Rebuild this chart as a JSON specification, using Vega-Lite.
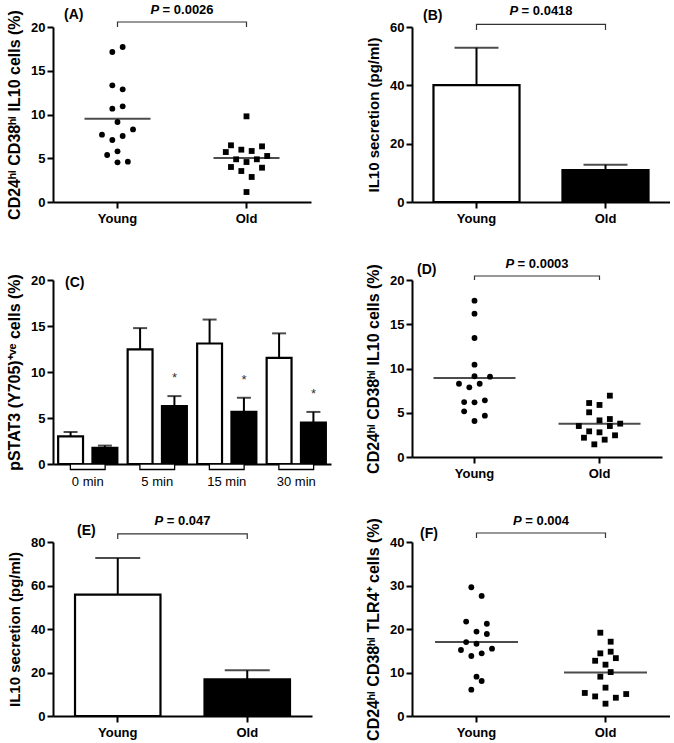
{
"$schema": "https://vega.github.io/schema/vega-lite/v6.json",
"padding": {"left": 6, "top": 4, "right": 0, "bottom": 0},
"background": "white",
"columns": 2,
"bounds": "flush",
"spacing": {"row": 78, "column": 81},
"config": {
  "font": "Liberation Sans",
  "view": {"stroke": null},
  "axis": {"domainColor": "black", "domainWidth": 2, "tickColor": "black", "tickWidth": 2, "tickSize": 6, "labelColor": "black", "labelFontSize": 13, "labelFontWeight": "bold", "labelPadding": 2, "titleFontSize": 15, "titleFontWeight": "bold", "titleColor": "black", "titlePadding": 8, "grid": false},
  "axisX": {"labelAngle": 0, "labelPadding": 4}
},
"concat": [
{
 "width": 258, "height": 175,
 "layer": [
  {"data": {"values": [
    {"age":"Young","v":17.14,"slot":-1},{"age":"Young","v":17.71,"slot":1},{"age":"Young","v":13.33,"slot":-1},{"age":"Young","v":12.88,"slot":1},{"age":"Young","v":10.67,"slot":-1},{"age":"Young","v":10.93,"slot":1},{"age":"Young","v":9.14,"slot":0},{"age":"Young","v":7.7,"slot":-3},{"age":"Young","v":8.3,"slot":3},{"age":"Young","v":7.09,"slot":-1},{"age":"Young","v":7.54,"slot":1},{"age":"Young","v":5.37,"slot":-2},{"age":"Young","v":5.79,"slot":0},{"age":"Young","v":4.53,"slot":0},{"age":"Young","v":4.61,"slot":2},
    {"age":"Old","v":9.79,"slot":0},{"age":"Old","v":6.48,"slot":-3},{"age":"Old","v":5.71,"slot":-4},{"age":"Old","v":5.98,"slot":-1},{"age":"Old","v":5.83,"slot":1},{"age":"Old","v":6.36,"slot":3},{"age":"Old","v":4.88,"slot":-2},{"age":"Old","v":4.57,"slot":0},{"age":"Old","v":4.88,"slot":2},{"age":"Old","v":5.26,"slot":4},{"age":"Old","v":4.0,"slot":-3},{"age":"Old","v":3.54,"slot":-1},{"age":"Old","v":3.92,"slot":3},{"age":"Old","v":2.86,"slot":1},{"age":"Old","v":1.14,"slot":0}
   ]},
   "mark": {"type": "point", "filled": true, "opacity": 1, "size": 34, "color": "black"},
   "encoding": {
     "x": {"field": "age", "type": "nominal", "scale": {"type": "band", "domain": ["Young", "Old"], "paddingInner": 0, "paddingOuter": 0}, "axis": {"title": null}},
     "xOffset": {"field": "slot", "type": "quantitative", "scale": {"domain": [-4, 4], "range": [43.8, 85.2]}},
     "y": {"field": "v", "type": "quantitative", "scale": {"domain": [0, 20], "nice": false}, "axis": {"title": "CD24ʰⁱ CD38ʰⁱ IL10 cells (%)", "titleFontSize": 16, "values": [0, 5, 10, 15, 20]}},
     "shape": {"field": "age", "type": "nominal", "scale": {"domain": ["Young", "Old"], "range": ["circle", "square"]}, "legend": null}}},
  {"data": {"values": [{"age": "Young", "v": 9.52}, {"age": "Old", "v": 5.03}]},
   "mark": {"type": "tick", "orient": "horizontal", "size": 66, "thickness": 2, "color": "black"},
   "encoding": {"x": {"field": "age", "type": "nominal", "bandPosition": 0.5}, "y": {"field": "v", "type": "quantitative"}}},
  {"data": {"values": [{"age":"Young","v":20,"o":1},{"age":"Young","v":20.57,"o":2},{"age":"Old","v":20.57,"o":3},{"age":"Old","v":20,"o":4}]},
   "mark": {"type": "line", "color": "#333333", "strokeWidth": 1.2, "clip": false},
   "encoding": {"x": {"field":"age","type":"nominal","bandPosition":0.5}, "y": {"field":"v","type":"quantitative"}, "order": {"field":"o","type":"quantitative"}}},
  {"data": {"values": [{"age":"Young","v":20}]},
   "mark": {"type":"text","text":"P","fontStyle":"italic","fontWeight":"bold","fontSize":13,"align":"left","baseline":"alphabetic","dx":-31.6,"dy":-13,"color":"black"},
   "encoding": {"x": {"field":"age","type":"nominal","bandPosition":1}, "y": {"field":"v","type":"quantitative"}}},
  {"data": {"values": [{"age":"Young","v":20}]},
   "mark": {"type":"text","text":"= 0.0026","fontWeight":"bold","fontSize":13,"align":"left","baseline":"alphabetic","dx":-19.4,"dy":-13,"color":"black"},
   "encoding": {"x": {"field":"age","type":"nominal","bandPosition":1}, "y": {"field":"v","type":"quantitative"}}},
  {"data": {"values": [{"age":"Young","v":20}]},
   "mark": {"type":"text","text":"(A)","fontWeight":"bold","fontSize":14,"align":"left","baseline":"alphabetic","dx":11,"dy":-8,"color":"black"},
   "encoding": {"x": {"field":"age","type":"nominal","bandPosition":0}, "y": {"field":"v","type":"quantitative"}}}
 ]
},
{
 "width": 258, "height": 175,
 "layer": [
  {"data": {"values": [{"age":"Young","v":40.1,"hi":52.9},{"age":"Old","v":10.9,"hi":12.8}]},
   "layer": [
    {"mark": {"type": "bar", "width": {"band": 0.667}, "stroke": "black", "strokeWidth": 2.2},
     "encoding": {
       "x": {"field": "age", "type": "nominal", "scale": {"type": "band", "domain": ["Young", "Old"], "paddingInner": 0, "paddingOuter": 0}, "axis": {"title": null}},
       "y": {"field": "v", "type": "quantitative", "scale": {"domain": [0, 60], "nice": false}, "axis": {"title": "IL10 secretion (pg/ml)", "values": [0, 20, 40, 60]}},
       "fill": {"field": "age", "type": "nominal", "scale": {"domain": ["Young", "Old"], "range": ["white", "black"]}, "legend": null}}},
    {"mark": {"type": "rule", "strokeWidth": 2, "color": "black"},
     "encoding": {"x": {"field": "age", "type": "nominal", "bandPosition": 0.5}, "y": {"field": "v", "type": "quantitative"}, "y2": {"field": "hi"}}},
    {"mark": {"type": "tick", "orient": "horizontal", "size": 44, "thickness": 2, "color": "black"},
     "encoding": {"x": {"field": "age", "type": "nominal", "bandPosition": 0.5}, "y": {"field": "hi", "type": "quantitative"}}}
   ]},
  {"data": {"values": [{"age":"Young","v":59,"o":1},{"age":"Young","v":60.9,"o":2},{"age":"Old","v":60.9,"o":3},{"age":"Old","v":59,"o":4}]},
   "mark": {"type": "line", "color": "#333333", "strokeWidth": 1.2, "clip": false},
   "encoding": {"x": {"field":"age","type":"nominal","bandPosition":0.5}, "y": {"field":"v","type":"quantitative"}, "order": {"field":"o","type":"quantitative"}}},
  {"data": {"values": [{"age":"Young","v":60}]},
   "mark": {"type":"text","text":"P","fontStyle":"italic","fontWeight":"bold","fontSize":13,"align":"left","baseline":"alphabetic","dx":-31.6,"dy":-12,"color":"black"},
   "encoding": {"x": {"field":"age","type":"nominal","bandPosition":1}, "y": {"field":"v","type":"quantitative"}}},
  {"data": {"values": [{"age":"Young","v":60}]},
   "mark": {"type":"text","text":"= 0.0418","fontWeight":"bold","fontSize":13,"align":"left","baseline":"alphabetic","dx":-19.4,"dy":-12,"color":"black"},
   "encoding": {"x": {"field":"age","type":"nominal","bandPosition":1}, "y": {"field":"v","type":"quantitative"}}},
  {"data": {"values": [{"age":"Young","v":60}]},
   "mark": {"type":"text","text":"(B)","fontWeight":"bold","fontSize":14,"align":"left","baseline":"alphabetic","dx":11,"dy":-7,"color":"black"},
   "encoding": {"x": {"field":"age","type":"nominal","bandPosition":0}, "y": {"field":"v","type":"quantitative"}}}
 ]
},
{
 "width": 278, "height": 184,
 "layer": [
  {"data": {"values": [
    {"time":"0 min","age":"Young","v":3.0,"hi":3.48,"star":""},{"time":"0 min","age":"Old","v":1.75,"hi":2.0,"star":""},
    {"time":"5 min","age":"Young","v":12.47,"hi":14.77,"star":""},{"time":"5 min","age":"Old","v":6.3,"hi":7.38,"star":"*"},
    {"time":"15 min","age":"Young","v":13.1,"hi":15.7,"star":""},{"time":"15 min","age":"Old","v":5.66,"hi":7.2,"star":"*"},
    {"time":"30 min","age":"Young","v":11.54,"hi":14.2,"star":""},{"time":"30 min","age":"Old","v":4.5,"hi":5.66,"star":"*"}
   ]},
   "layer": [
    {"mark": {"type": "bar", "stroke": "black", "strokeWidth": 2.2},
     "encoding": {
       "x": {"field": "time", "type": "nominal", "scale": {"type": "band", "domain": ["0 min", "5 min", "15 min", "30 min"], "paddingInner": 0, "paddingOuter": 0}, "axis": {"title": null, "ticks": false, "labelPadding": 11, "labelFontWeight": "normal"}},
       "xOffset": {"field": "age", "type": "nominal", "scale": {"domain": ["Young", "Old"], "paddingInner": 0.275, "paddingOuter": 0.15}},
       "y": {"field": "v", "type": "quantitative", "scale": {"domain": [0, 20], "nice": false}, "axis": {"title": "pSTAT3 (Y705)⁺ᵛᵉ cells (%)", "titleFontSize": 16, "values": [0, 5, 10, 15, 20]}},
       "fill": {"field": "age", "type": "nominal", "scale": {"domain": ["Young", "Old"], "range": ["white", "black"]}, "legend": null}}},
    {"mark": {"type": "rule", "strokeWidth": 2, "color": "black"},
     "encoding": {"x": {"field": "time", "type": "nominal"}, "xOffset": {"field": "age", "type": "nominal"}, "y": {"field": "v", "type": "quantitative"}, "y2": {"field": "hi"}}},
    {"mark": {"type": "tick", "orient": "horizontal", "size": 14, "thickness": 2, "color": "black"},
     "encoding": {"x": {"field": "time", "type": "nominal"}, "xOffset": {"field": "age", "type": "nominal"}, "y": {"field": "hi", "type": "quantitative"}}},
    {"mark": {"type": "text", "fontSize": 13, "baseline": "alphabetic", "dy": -14, "color": "#333333"},
     "encoding": {"x": {"field": "time", "type": "nominal"}, "xOffset": {"field": "age", "type": "nominal"}, "y": {"field": "hi", "type": "quantitative"}, "text": {"field": "star"}}}
   ]},
  {"data": {"values": [{"time":"0 min","v":-0.6,"z":0},{"time":"5 min","v":-0.6,"z":0},{"time":"15 min","v":-0.6,"z":0},{"time":"30 min","v":-0.6,"z":0}]},
   "mark": {"type": "bar", "width": {"band": 0.5}, "fill": "white", "stroke": "black", "strokeWidth": 1.3, "clip": false},
   "encoding": {"x": {"field": "time", "type": "nominal"}, "y": {"field": "v", "type": "quantitative"}, "y2": {"field": "z"}}},
  {"data": {"values": [{"time":"0 min","v":20}]},
   "mark": {"type":"text","text":"(C)","fontWeight":"bold","fontSize":14,"align":"left","baseline":"alphabetic","dx":12,"dy":7,"color":"black"},
   "encoding": {"x": {"field":"time","type":"nominal","bandPosition":0}, "y": {"field":"v","type":"quantitative"}}}
 ]
},
{
 "width": 250, "height": 177,
 "layer": [
  {"data": {"values": [
    {"age":"Young","v":17.66,"slot":0},{"age":"Young","v":16.2,"slot":0},{"age":"Young","v":13.45,"slot":0},{"age":"Young","v":10.43,"slot":0},{"age":"Young","v":9.12,"slot":0},{"age":"Young","v":9.08,"slot":3},{"age":"Young","v":8.28,"slot":-3},{"age":"Young","v":8.28,"slot":1},{"age":"Young","v":7.87,"slot":-1},{"age":"Young","v":6.21,"slot":-2},{"age":"Young","v":6.18,"slot":0},{"age":"Young","v":6.4,"slot":2},{"age":"Young","v":5.16,"slot":-2},{"age":"Young","v":4.67,"slot":2},{"age":"Young","v":4.07,"slot":0},
    {"age":"Old","v":6.93,"slot":2},{"age":"Old","v":6.1,"slot":-2},{"age":"Old","v":5.88,"slot":0},{"age":"Old","v":5.05,"slot":-2},{"age":"Old","v":4.14,"slot":0},{"age":"Old","v":4.29,"slot":2},{"age":"Old","v":3.77,"slot":4},{"age":"Old","v":3.5,"slot":-4},{"age":"Old","v":3.5,"slot":2},{"age":"Old","v":2.9,"slot":-2},{"age":"Old","v":2.79,"slot":0},{"age":"Old","v":2.45,"slot":3},{"age":"Old","v":2.18,"slot":-3},{"age":"Old","v":1.96,"slot":1},{"age":"Old","v":1.43,"slot":-1}
   ]},
   "mark": {"type": "point", "filled": true, "opacity": 1, "size": 34, "color": "black"},
   "encoding": {
     "x": {"field": "age", "type": "nominal", "scale": {"type": "band", "domain": ["Young", "Old"], "paddingInner": 0, "paddingOuter": 0}, "axis": {"title": null}},
     "xOffset": {"field": "slot", "type": "quantitative", "scale": {"domain": [-4, 4], "range": [41.8, 83.2]}},
     "y": {"field": "v", "type": "quantitative", "scale": {"domain": [0, 20], "nice": false}, "axis": {"title": "CD24ʰⁱ CD38ʰⁱ IL10 cells (%)", "titleFontSize": 16, "values": [0, 5, 10, 15, 20]}},
     "shape": {"field": "age", "type": "nominal", "scale": {"domain": ["Young", "Old"], "range": ["circle", "square"]}, "legend": null}}},
  {"data": {"values": [{"age": "Young", "v": 8.93}, {"age": "Old", "v": 3.77}]},
   "mark": {"type": "tick", "orient": "horizontal", "size": 82, "thickness": 2, "color": "black"},
   "encoding": {"x": {"field": "age", "type": "nominal", "bandPosition": 0.5}, "y": {"field": "v", "type": "quantitative"}}},
  {"data": {"values": [{"age":"Young","v":20,"o":1},{"age":"Young","v":20.45,"o":2},{"age":"Old","v":20.45,"o":3},{"age":"Old","v":20,"o":4}]},
   "mark": {"type": "line", "color": "#333333", "strokeWidth": 1.2, "clip": false},
   "encoding": {"x": {"field":"age","type":"nominal","bandPosition":0.5}, "y": {"field":"v","type":"quantitative"}, "order": {"field":"o","type":"quantitative"}}},
  {"data": {"values": [{"age":"Young","v":20}]},
   "mark": {"type":"text","text":"P","fontStyle":"italic","fontWeight":"bold","fontSize":13,"align":"left","baseline":"alphabetic","dx":-31.6,"dy":-12,"color":"black"},
   "encoding": {"x": {"field":"age","type":"nominal","bandPosition":1}, "y": {"field":"v","type":"quantitative"}}},
  {"data": {"values": [{"age":"Young","v":20}]},
   "mark": {"type":"text","text":"= 0.0003","fontWeight":"bold","fontSize":13,"align":"left","baseline":"alphabetic","dx":-19.4,"dy":-12,"color":"black"},
   "encoding": {"x": {"field":"age","type":"nominal","bandPosition":1}, "y": {"field":"v","type":"quantitative"}}},
  {"data": {"values": [{"age":"Young","v":20}]},
   "mark": {"type":"text","text":"(D)","fontWeight":"bold","fontSize":14,"align":"left","baseline":"alphabetic","dx":5,"dy":-6,"color":"black"},
   "encoding": {"x": {"field":"age","type":"nominal","bandPosition":0}, "y": {"field":"v","type":"quantitative"}}}
 ]
},
{
 "width": 259, "height": 174,
 "layer": [
  {"data": {"values": [{"age":"Young","v":55.8,"hi":72.6},{"age":"Old","v":16.9,"hi":21.0}]},
   "layer": [
    {"mark": {"type": "bar", "width": {"band": 0.66}, "stroke": "black", "strokeWidth": 2.2},
     "encoding": {
       "x": {"field": "age", "type": "nominal", "scale": {"type": "band", "domain": ["Young", "Old"], "paddingInner": 0, "paddingOuter": 0}, "axis": {"title": null}},
       "y": {"field": "v", "type": "quantitative", "scale": {"domain": [0, 80], "nice": false}, "axis": {"title": "IL10 secretion (pg/ml)", "values": [0, 20, 40, 60, 80]}},
       "fill": {"field": "age", "type": "nominal", "scale": {"domain": ["Young", "Old"], "range": ["white", "black"]}, "legend": null}}},
    {"mark": {"type": "rule", "strokeWidth": 2, "color": "black"},
     "encoding": {"x": {"field": "age", "type": "nominal", "bandPosition": 0.5}, "y": {"field": "v", "type": "quantitative"}, "y2": {"field": "hi"}}},
    {"mark": {"type": "tick", "orient": "horizontal", "size": 45, "thickness": 2, "color": "black"},
     "encoding": {"x": {"field": "age", "type": "nominal", "bandPosition": 0.5}, "y": {"field": "hi", "type": "quantitative"}}}
   ]},
  {"data": {"values": [{"age":"Young","v":81.4,"o":1},{"age":"Young","v":83.7,"o":2},{"age":"Old","v":83.7,"o":3},{"age":"Old","v":81.4,"o":4}]},
   "mark": {"type": "line", "color": "#333333", "strokeWidth": 1.2, "clip": false},
   "encoding": {"x": {"field":"age","type":"nominal","bandPosition":0.5}, "y": {"field":"v","type":"quantitative"}, "order": {"field":"o","type":"quantitative"}}},
  {"data": {"values": [{"age":"Young","v":80}]},
   "mark": {"type":"text","text":"P","fontStyle":"italic","fontWeight":"bold","fontSize":13,"align":"left","baseline":"alphabetic","dx":-28,"dy":-17,"color":"black"},
   "encoding": {"x": {"field":"age","type":"nominal","bandPosition":1}, "y": {"field":"v","type":"quantitative"}}},
  {"data": {"values": [{"age":"Young","v":80}]},
   "mark": {"type":"text","text":"= 0.047","fontWeight":"bold","fontSize":13,"align":"left","baseline":"alphabetic","dx":-15.7,"dy":-17,"color":"black"},
   "encoding": {"x": {"field":"age","type":"nominal","bandPosition":1}, "y": {"field":"v","type":"quantitative"}}},
  {"data": {"values": [{"age":"Young","v":80}]},
   "mark": {"type":"text","text":"(E)","fontWeight":"bold","fontSize":14,"align":"left","baseline":"alphabetic","dx":24,"dy":-7,"color":"black"},
   "encoding": {"x": {"field":"age","type":"nominal","bandPosition":0}, "y": {"field":"v","type":"quantitative"}}}
 ]
},
{
 "width": 258, "height": 174,
 "layer": [
  {"data": {"values": [
    {"age":"Young","v":29.6,"slot":-1},{"age":"Young","v":27.6,"slot":1},{"age":"Young","v":21.7,"slot":-2},{"age":"Young","v":21.2,"slot":2},{"age":"Young","v":19.4,"slot":0},{"age":"Young","v":18.85,"slot":2},{"age":"Young","v":17.0,"slot":-2},{"age":"Young","v":16.6,"slot":0},{"age":"Young","v":15.17,"slot":-3},{"age":"Young","v":15.48,"slot":3},{"age":"Young","v":13.8,"slot":-1},{"age":"Young","v":14.4,"slot":1},{"age":"Young","v":9.04,"slot":0},{"age":"Young","v":8.05,"slot":1},{"age":"Young","v":6.05,"slot":-1},
    {"age":"Old","v":19.15,"slot":-1},{"age":"Old","v":17.08,"slot":1},{"age":"Old","v":14.4,"slot":-1},{"age":"Old","v":14.78,"slot":1},{"age":"Old","v":13.3,"slot":2},{"age":"Old","v":12.7,"slot":-2},{"age":"Old","v":11.8,"slot":0},{"age":"Old","v":10.1,"slot":1},{"age":"Old","v":9.04,"slot":-1},{"age":"Old","v":6.52,"slot":0},{"age":"Old","v":5.3,"slot":-4},{"age":"Old","v":4.5,"slot":-2},{"age":"Old","v":4.2,"slot":2},{"age":"Old","v":5.05,"slot":4},{"age":"Old","v":2.83,"slot":0}
   ]},
   "mark": {"type": "point", "filled": true, "opacity": 1, "size": 34, "color": "black"},
   "encoding": {
     "x": {"field": "age", "type": "nominal", "scale": {"type": "band", "domain": ["Young", "Old"], "paddingInner": 0, "paddingOuter": 0}, "axis": {"title": null}},
     "xOffset": {"field": "slot", "type": "quantitative", "scale": {"domain": [-4, 4], "range": [43.8, 85.2]}},
     "y": {"field": "v", "type": "quantitative", "scale": {"domain": [0, 40], "nice": false}, "axis": {"title": "CD24ʰⁱ CD38ʰⁱ TLR4⁺ cells (%)", "titleFontSize": 16, "values": [0, 10, 20, 30, 40]}},
     "shape": {"field": "age", "type": "nominal", "scale": {"domain": ["Young", "Old"], "range": ["circle", "square"]}, "legend": null}}},
  {"data": {"values": [{"age": "Young", "v": 17.0}, {"age": "Old", "v": 10.0}]},
   "mark": {"type": "tick", "orient": "horizontal", "size": 83, "thickness": 2, "color": "black"},
   "encoding": {"x": {"field": "age", "type": "nominal", "bandPosition": 0.5}, "y": {"field": "v", "type": "quantitative"}}},
  {"data": {"values": [{"age":"Young","v":40.9,"o":1},{"age":"Young","v":42.07,"o":2},{"age":"Old","v":42.07,"o":3},{"age":"Old","v":40.9,"o":4}]},
   "mark": {"type": "line", "color": "#333333", "strokeWidth": 1.2, "clip": false},
   "encoding": {"x": {"field":"age","type":"nominal","bandPosition":0.5}, "y": {"field":"v","type":"quantitative"}, "order": {"field":"o","type":"quantitative"}}},
  {"data": {"values": [{"age":"Young","v":40}]},
   "mark": {"type":"text","text":"P","fontStyle":"italic","fontWeight":"bold","fontSize":13,"align":"left","baseline":"alphabetic","dx":-28,"dy":-17,"color":"black"},
   "encoding": {"x": {"field":"age","type":"nominal","bandPosition":1}, "y": {"field":"v","type":"quantitative"}}},
  {"data": {"values": [{"age":"Young","v":40}]},
   "mark": {"type":"text","text":"= 0.004","fontWeight":"bold","fontSize":13,"align":"left","baseline":"alphabetic","dx":-15.7,"dy":-17,"color":"black"},
   "encoding": {"x": {"field":"age","type":"nominal","bandPosition":1}, "y": {"field":"v","type":"quantitative"}}},
  {"data": {"values": [{"age":"Young","v":40}]},
   "mark": {"type":"text","text":"(F)","fontWeight":"bold","fontSize":14,"align":"left","baseline":"alphabetic","dx":8,"dy":-4,"color":"black"},
   "encoding": {"x": {"field":"age","type":"nominal","bandPosition":0}, "y": {"field":"v","type":"quantitative"}}}
 ]
}
]
}
